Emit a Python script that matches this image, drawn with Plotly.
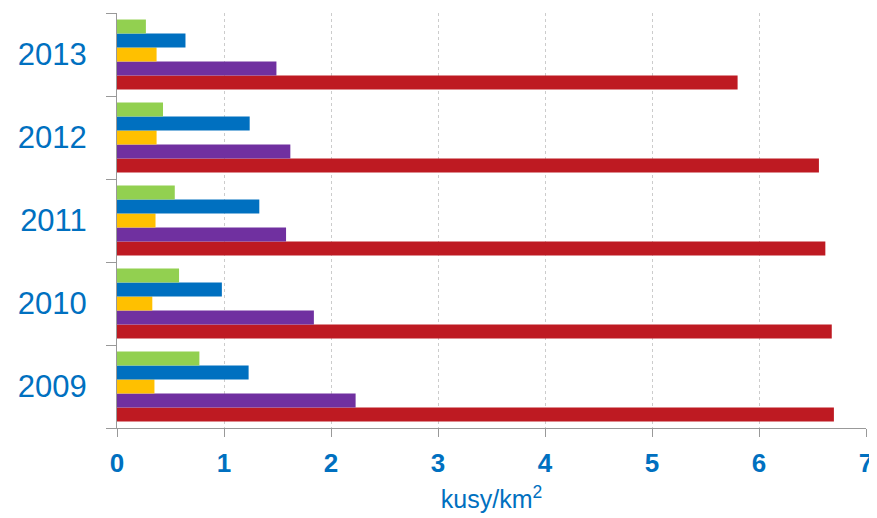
import plotly.graph_objects as go

years = ["2009", "2010", "2011", "2012", "2013"]
# series listed bottom-to-top within each group
red_vals = [6.70, 6.68, 6.62, 6.56, 5.80]
purple_vals = [2.23, 1.84, 1.58, 1.62, 1.49]
yellow_vals = [0.35, 0.33, 0.36, 0.37, 0.37]
blue_vals = [1.23, 0.98, 1.33, 1.24, 0.64]
green_vals = [0.77, 0.58, 0.54, 0.43, 0.27]
x_ticks = [0, 1, 2, 3, 4, 5, 6, 7]

series = [
    (red_vals, "#BE1A22"),
    (purple_vals, "#7030A0"),
    (yellow_vals, "#FFC000"),
    (blue_vals, "#0070C0"),
    (green_vals, "#92D050"),
]

FONT = "Liberation Sans, Arial, sans-serif"

fig = go.Figure()
for vals, col in series:
    fig.add_trace(go.Bar(
        y=years, x=vals, orientation="h",
        marker=dict(color=col, line=dict(width=0)),
        showlegend=False,
    ))

fig.update_layout(
    width=869, height=510,
    margin=dict(l=109, r=11, t=5, b=90),
    barmode="group", bargap=0.157, bargroupgap=0,
    paper_bgcolor="white", plot_bgcolor="white",
    font=dict(family=FONT, color="#0070C0"),
)
fig.update_xaxes(
    range=[0, 7], tickvals=x_ticks, automargin=False,
    tickfont=dict(size=26, color="#0070C0", family=FONT, weight="bold"),
    showgrid=True, gridcolor="#CCCCCC", griddash="3px,3px", gridwidth=1,
    showline=True, linecolor="#999999", linewidth=1,
    ticks="outside", ticklen=8, tickcolor="#999999",
    ticklabelstandoff=4,
    zeroline=False,
    title=dict(text="kusy/km<sup>2</sup>", font=dict(size=25, color="#0070C0", family=FONT), standoff=13),
)
fig.update_yaxes(
    categoryorder="array", categoryarray=years, automargin=False,
    tickfont=dict(size=31, color="#0070C0", family=FONT),
    showline=True, linecolor="#999999", linewidth=1,
    ticks="outside", ticklen=10, tickcolor="#999999", tickson="boundaries",
    ticklabelstandoff=23,
    showgrid=False,
)

fig.write_html("out.html")
